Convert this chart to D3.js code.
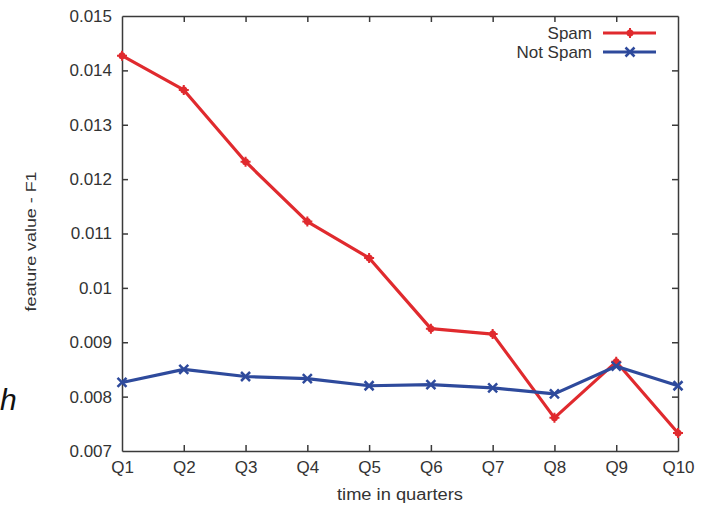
<!DOCTYPE html>
<meta charset="utf-8">
<script src="https://d3js.org/d3.v7.min.js"></script>
<style>
  body { margin: 0; background: #fff; }
  text { font-family: "Liberation Sans", Arial, sans-serif; }
</style>
<svg id="chart"></svg>
<script>

// data
var quarters = ["Q1","Q2","Q3","Q4","Q5","Q6","Q7","Q8","Q9","Q10"];
var spam    = [0.01427, 0.01364, 0.01232, 0.01122, 0.01055, 0.00925, 0.00915, 0.00761, 0.00864, 0.00733];
var notSpam = [0.00826, 0.00850, 0.00837, 0.00833, 0.00820, 0.00822, 0.00816, 0.00805, 0.00856, 0.00820];
var yTicks  = [0.007, 0.008, 0.009, 0.01, 0.011, 0.012, 0.013, 0.014, 0.015];
var seriesNames = ["Spam", "Not Spam"];

var W = 704, H = 505,
    margin = { top: 16, right: 26, bottom: 54, left: 122 },
    width = W - margin.left - margin.right,
    height = H - margin.top - margin.bottom;

var svg = d3.select("#chart").attr("width", W).attr("height", H);
var g = svg.append("g").attr("transform", "translate(" + margin.left + "," + margin.top + ")");

var x = d3.scalePoint().domain(quarters).range([0, width]);
var y = d3.scaleLinear().domain([0.007, 0.015]).range([height, 0]);

var axisColor = "#3a3a3a", labelColor = "#333";

// axes with inward ticks, mirrored on top and right
g.append("g").attr("transform", "translate(0," + height + ")")
  .call(d3.axisBottom(x).tickSizeInner(-6).tickSizeOuter(0).tickPadding(10));
g.append("g")
  .call(d3.axisTop(x).tickSizeInner(-6).tickSizeOuter(0).tickFormat(""));
g.append("g")
  .call(d3.axisLeft(y).tickValues(yTicks).tickSizeInner(-6).tickSizeOuter(0).tickPadding(10)
    .tickFormat(function(d) { return d3.format("")(+d.toFixed(3)); }));
g.append("g").attr("transform", "translate(" + width + ",0)")
  .call(d3.axisRight(y).tickValues(yTicks).tickSizeInner(-6).tickSizeOuter(0).tickFormat(""));

g.selectAll(".domain, .tick line").attr("stroke", axisColor).attr("stroke-width", 1.5);
g.selectAll(".tick text").attr("fill", labelColor).style("font-size", "17px")
  .style("font-family", "'Liberation Sans', Arial, sans-serif");

// hide ticks that sit on the corners
g.selectAll(".tick").filter(function(d) { return d === "Q1" || d === "Q10" || d === 0.007 || d === 0.015; })
  .select("line").attr("display", "none");

// axis titles
svg.append("text")
  .attr("x", margin.left + width / 2).attr("y", 500)
  .attr("text-anchor", "middle").attr("fill", labelColor).style("font-size", "16px")
  .attr("textLength", 126).attr("lengthAdjust", "spacingAndGlyphs")
  .text("time in quarters");
svg.append("text")
  .attr("transform", "translate(36," + (margin.top + height / 2 + 8) + ") rotate(-90)")
  .attr("text-anchor", "middle").attr("fill", labelColor).style("font-size", "15px")
  .attr("textLength", 140).attr("lengthAdjust", "spacingAndGlyphs")
  .text("feature value - F1");

// stray slide letter at the left edge
svg.append("text")
  .attr("x", 0).attr("y", 410)
  .style("font-style", "italic")
  .style("font-size", "30px").attr("fill", "#111")
  .text("h");

var colors = ["#e02a2e", "#2e4a9c"];
var line = d3.line().x(function(d, i) { return x(quarters[i]); }).y(function(d) { return y(d); });

function marker(sel, k, cx, cy) {
  if (k === 0) {
    sel.append("circle").attr("cx", cx).attr("cy", cy).attr("r", 3.5).attr("fill", colors[0]);
    sel.append("path").attr("d", "M" + (cx - 5) + "," + cy + "h10M" + cx + "," + (cy - 5) + "v10")
      .attr("stroke", colors[0]).attr("stroke-width", 2);
  } else {
    sel.append("path")
      .attr("d", "M" + (cx - 4.5) + "," + (cy - 4.5) + "l9,9M" + (cx + 4.5) + "," + (cy - 4.5) + "l-9,9")
      .attr("stroke", colors[1]).attr("stroke-width", 2.5);
  }
}

[spam, notSpam].forEach(function(vals, k) {
  g.append("path").datum(vals)
    .attr("d", line).attr("fill", "none")
    .attr("stroke", colors[k]).attr("stroke-width", 3.2).attr("stroke-linejoin", "round");
  var m = g.append("g");
  vals.forEach(function(v, i) { marker(m, k, x(quarters[i]), y(v)); });
});

// legend
var lg = svg.append("g");
seriesNames.forEach(function(name, k) {
  var ly = 33 + k * 19;
  lg.append("text").attr("x", 592).attr("y", ly + 6).attr("text-anchor", "end")
    .attr("fill", labelColor).style("font-size", "17px").text(name);
  lg.append("line").attr("x1", 603).attr("x2", 656).attr("y1", ly).attr("y2", ly)
    .attr("stroke", colors[k]).attr("stroke-width", 3.2);
  marker(lg, k, 630, ly);
});

</script>
